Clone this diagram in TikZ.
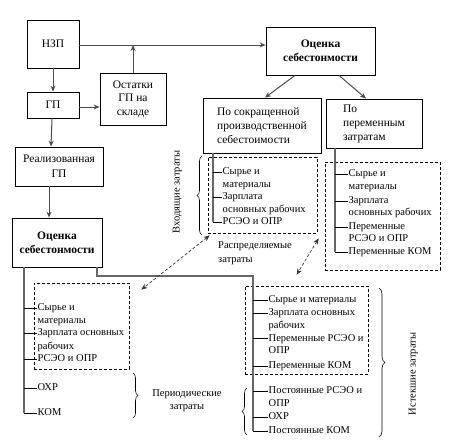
\documentclass[tikz,border=0pt]{standalone}
\usepackage{fontspec}
\setmainfont{Liberation Serif}
\usetikzlibrary{arrows.meta,decorations.pathreplacing}
\begin{document}
\begin{tikzpicture}[x=1pt,y=-1pt,
 box/.style={draw=black,line width=0.8pt,inner sep=0pt,font=\fontsize{11.5}{13.5}\selectfont,align=center},
 boxl/.style={box,align=left,font=\fontsize{11.5}{14}\selectfont},
 conn/.style={draw=black!70,line width=1pt},
 arr/.style={conn,-{Stealth[length=6pt,width=5pt]}},
 trunk/.style={draw=black!60,line width=1.4pt},
 tick/.style={draw=black,line width=0.7pt},
 dbox/.style={draw=black,line width=0.7pt,dash pattern=on 3pt off 2pt,inner sep=0pt},
 lt/.style={font=\fontsize{10.5}{12}\selectfont,inner sep=0.5pt,anchor=west,text height=7pt,text depth=2pt},
 ltm/.style={font=\fontsize{10.5}{13}\selectfont,inner sep=0.5pt,align=center},
 dar/.style={draw=black!80,line width=0.7pt,dash pattern=on 3pt off 2pt,{Stealth[length=6pt,width=5pt]}-{Stealth[length=6pt,width=5pt]}},
 brc/.style={draw=black,line width=0.6pt,decorate,decoration={brace,amplitude=5pt}}]
\useasboundingbox[fill=white] (0,0) rectangle (473,445);

% main boxes
\node[box,minimum width=52pt,minimum height=48pt] (nzp) at (53,44) {НЗП};
\node[box,minimum width=52pt,minimum height=26pt] (gp) at (53,105) {ГП};
\node[box,minimum width=66pt,minimum height=52pt] (ost) at (133,99) {Остатки\\ГП на\\складе};
\node[box,minimum width=109pt,minimum height=48pt,font=\fontsize{11.5}{14}\selectfont\bfseries] (ocT) at (320.5,51) {Оценка\\себестонмости};
\node[boxl,minimum width=118pt,minimum height=55pt] (sok) at (262,125.5) {По сокращенной\\производственной\\себестоимости};
\node[boxl,minimum width=96pt,minimum height=49pt] (per) at (374,123.5) {По\\переменным\\затратам};
\node[box,minimum width=88pt,minimum height=39pt,font=\fontsize{11.5}{15}\selectfont] (real) at (59,166.5) {Реализованная\\ГП};
\node[box,minimum width=90pt,minimum height=49pt,font=\fontsize{11.5}{14}\selectfont\bfseries] (ocL) at (57,242.5) {Оценка\\себестонмости};

% arrows between boxes
\draw[arr] (nzp.south) -- (gp.north);
\draw[arr] ([xshift=-1pt]gp.south) -- ([xshift=-8pt]real.north);
\draw[arr] ([xshift=-10pt]real.south) -- ([xshift=-8pt]ocL.north);
\draw[arr] ([yshift=-2pt]gp.east) -- ([yshift=-2pt]gp.east -| ost.west);
\draw[arr] ([yshift=-1pt]nzp.east) -- ([yshift=-1pt]nzp.east -| ocT.west);
\draw[arr] (ost.north) -- ([yshift=-1pt]ost.north |- nzp.east);
\draw[arr] ([xshift=-25.5pt]ocT.south) -- ([xshift=3pt]sok.north);
\draw[arr] ([xshift=18.5pt]ocT.south) -- ([xshift=-8pt]per.north);

% dashed boxes
\node[dbox,minimum width=109pt,minimum height=76pt] (db1) at (262.5,195) {};
\node[dbox,minimum width=115pt,minimum height=108pt] (db2) at (382.5,216) {};
\node[dbox,minimum width=95pt,minimum height=86pt] (db3) at (81.5,326) {};
\node[dbox,minimum width=123pt,minimum height=88pt] (db4) at (306.5,330) {};

% upper-middle list
\node[lt] (u1) at (222,172) {Сырье и};
\node[lt] (u2) at (222,184.5) {материалы};
\node[lt] (u3) at (222,197) {Зарплата};
\node[lt] (u4) at (222,209.5) {основных рабочих};
\node[lt] (u5) at (222,222) {РСЭО и ОПР};
\coordinate (tU) at ([xshift=-49pt]sok.south);
\draw[trunk] (tU) -- (tU |- u5.west);
\foreach \n in {u1,u3,u5} \draw[tick] (tU |- \n.west) -- (\n.west);

% right-middle list
\node[lt] (m1) at (348,174) {Сырье и};
\node[lt] (m2) at (348,187) {материалы};
\node[lt] (m3) at (348,201) {Зарплата};
\node[lt] (m4) at (348,213) {основных рабочих};
\node[lt] (m5) at (348,227) {Переменные};
\node[lt] (m6) at (348,239) {РСЭО и ОПР};
\node[lt] (m7) at (348,252) {Переменные КОМ};
\coordinate (tM) at ([xshift=-39pt]per.south);
\draw[trunk] (tM) -- (tM |- m7.west);
\foreach \n in {m1,m3,m5,m7} \draw[tick] (tM |- \n.west) -- (\n.west);

% left list
\node[lt] (l1) at (37,308) {Сырье и};
\node[lt] (l2) at (37,321) {материалы};
\node[lt] (l3) at (37,333) {Зарплата основных};
\node[lt] (l4) at (37,347) {рабочих};
\node[lt] (l5) at (37,359) {РСЭО и ОПР};
\node[lt] (l6) at (37,388) {ОХР};
\node[lt] (l7) at (37,413) {КОМ};
\coordinate (tL) at ([xshift=-33pt]ocL.south);
\draw[trunk] (tL) -- (tL |- l7.west);
\foreach \n in {l1,l3,l5,l6,l7} \draw[tick] (tL |- \n.west) -- (\n.west);

% right-lower list
\node[lt] (r1) at (268,300) {Сырье и материалы};
\node[lt] (r2) at (268,313) {Зарплата основных};
\node[lt] (r3) at (268,326) {рабочих};
\node[lt] (r4) at (268,338.5) {Переменные РСЭО и};
\node[lt] (r5) at (268,351) {ОПР};
\node[lt] (r6) at (268,366) {Переменные КОМ};
\node[lt] (r7) at (268,391) {Постоянные РСЭО и};
\node[lt] (r8) at (268,403.5) {ОПР};
\node[lt] (r9) at (268,417) {ОХР};
\node[lt] (r10) at (268,431) {Постоянные КОМ};
\coordinate (tR) at (253,276);
\draw[trunk] ([xshift=40pt]ocL.south) |- (tR) -- (tR |- r10.west);
\foreach \n in {r1,r2,r4,r6,r7,r9,r10} \draw[tick] (tR |- \n.west) -- (\n.west);

% dashed double arrows
\draw[dar] ([shift={(2,2)}]db1.south west) -- ([shift={(12,7)}]db3.north east);
\draw[dar] ([shift={(-6,-32)}]db2.south west) -- ([shift={(52,-11)}]db4.north west);
\node[font=\fontsize{10.5}{14}\selectfont,align=left,inner sep=0pt,anchor=north west] (raspr) at (218,241) {Распределяемые\\затраты};

% braces and labels
\draw[brc] (202,235) -- (202,156);
\node[lt,anchor=center,rotate=90] (vhod) at (177,192) {Входящие затраты};
\draw[brc] (133,373) -- (133,418);
\node[ltm] (period) at (187,401) {Периодические\\затраты};
\draw[brc] (247,435) -- (247,388);
\draw[brc,decoration={amplitude=6pt}] (379,288) -- (379,437);
\node[lt,anchor=center,rotate=90] (ist) at (413,374) {Истекшие затраты};
\end{tikzpicture}
\end{document}
